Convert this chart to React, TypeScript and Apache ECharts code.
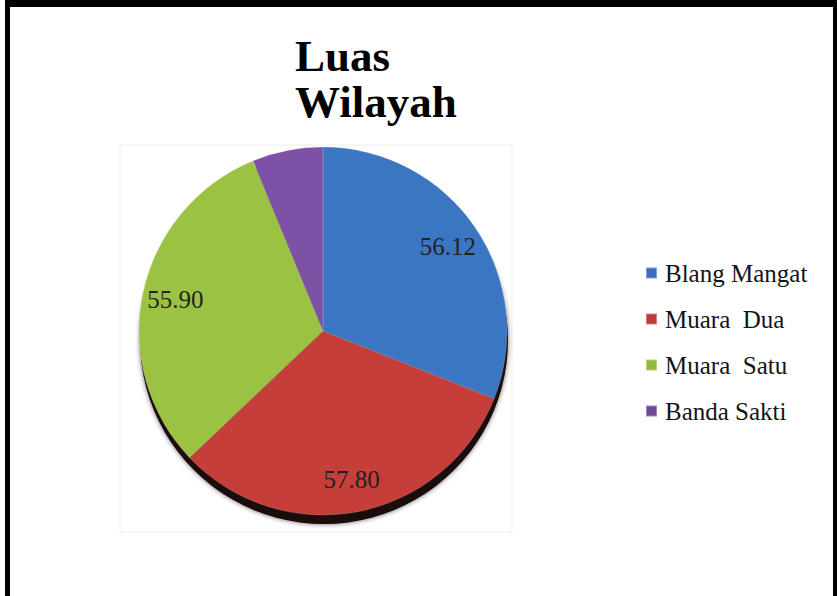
import React, { useEffect, useRef } from "react";
import * as echarts from "echarts";

const titleText = "Luas\nWilayah";
const categories = ["Blang Mangat", "Muara  Dua", "Muara  Satu", "Banda Sakti"];
const values = [56.12, 57.8, 55.9, 11.24];
const showValueLabel = [true, true, true, false];
const sliceColors = ["#3b76c3", "#c63e3a", "#9bc243", "#7d51a6"];
const legendColors = ["#3a6fc0", "#c0383a", "#93b840", "#6e4a9a"];

const SERIF = "'Liberation Serif', 'Times New Roman', serif";

export default function App() {
  const ref = useRef<HTMLDivElement>(null);

  useEffect(() => {
    if (!ref.current) return;
    const chart = echarts.init(ref.current, undefined, { renderer: "svg" });
    const total = values.reduce((a, b) => a + b, 0);
    const center = [323, 331];
    const radius = 184;

    chart.setOption({
      animation: false,
      backgroundColor: "#ffffff",
      title: {
        text: titleText,
        left: 295,
        top: 33,
        padding: 0,
        textStyle: {
          fontFamily: SERIF,
          fontWeight: "bold",
          fontSize: 45,
          lineHeight: 46,
          color: "#000000",
        },
      },
      legend: {
        orient: "vertical",
        left: 645,
        top: 260,
        padding: 0,
        itemWidth: 11,
        itemHeight: 11,
        itemGap: 20,
        icon: "rect",
        selectedMode: false,
        textStyle: {
          fontFamily: SERIF,
          fontSize: 25,
          lineHeight: 26,
          color: "#141414",
          padding: [0, 0, 0, 3],
        },
        data: categories.map((name, i) => ({
          name,
          itemStyle: { color: legendColors[i] },
        })),
      },
      graphic: [
        {
          type: "rect",
          z: -1,
          shape: { x: 120, y: 145, width: 392, height: 387 },
          style: { fill: "none", stroke: "#ededed", lineWidth: 1 },
        },
        { type: "rect", shape: { x: 5, y: 0, width: 832, height: 7 }, style: { fill: "#000" } },
        { type: "rect", shape: { x: 5, y: 0, width: 5, height: 596 }, style: { fill: "#000" } },
        { type: "rect", shape: { x: 833, y: 0, width: 4, height: 596 }, style: { fill: "#000" } },
      ],
      series: [
        {
          type: "pie",
          name: "shadow",
          silent: true,
          center: [center[0] + 1, center[1] + 9],
          radius: radius,
          z: 1,
          label: { show: false },
          labelLine: { show: false },
          itemStyle: {
            color: "#1c0707",
            shadowBlur: 5,
            shadowColor: "rgba(0,0,0,0.6)",
          },
          data: [{ name: "_shadow", value: total }],
        },
        {
          type: "pie",
          name: "Luas Wilayah",
          silent: true,
          center,
          radius,
          startAngle: 90,
          clockwise: true,
          z: 2,
          label: { show: false },
          labelLine: { show: false },
          data: categories.map((name, i) => ({
            name,
            value: values[i],
            itemStyle: { color: sliceColors[i], borderColor: "rgba(255,255,255,0.35)", borderWidth: 0.5 },
          })),
        },
        {
          type: "pie",
          name: "labels",
          silent: true,
          center,
          radius: [106, 190],
          startAngle: 90,
          clockwise: true,
          z: 3,
          itemStyle: { color: "rgba(0,0,0,0)" },
          labelLine: { show: false },
          label: {
            show: true,
            position: "inside",
            fontFamily: SERIF,
            fontSize: 25,
            color: "#222222",
            formatter: (p: any) => (showValueLabel[p.dataIndex] ? values[p.dataIndex].toFixed(2) : ""),
          },
          data: categories.map((name, i) => ({ name: name + " ", value: values[i] })),
        },
      ],
    });

    return () => chart.dispose();
  }, []);

  return (
    <div
      ref={ref}
      style={{ position: "fixed", left: 0, top: 0, width: 837, height: 596 }}
    />
  );
}
